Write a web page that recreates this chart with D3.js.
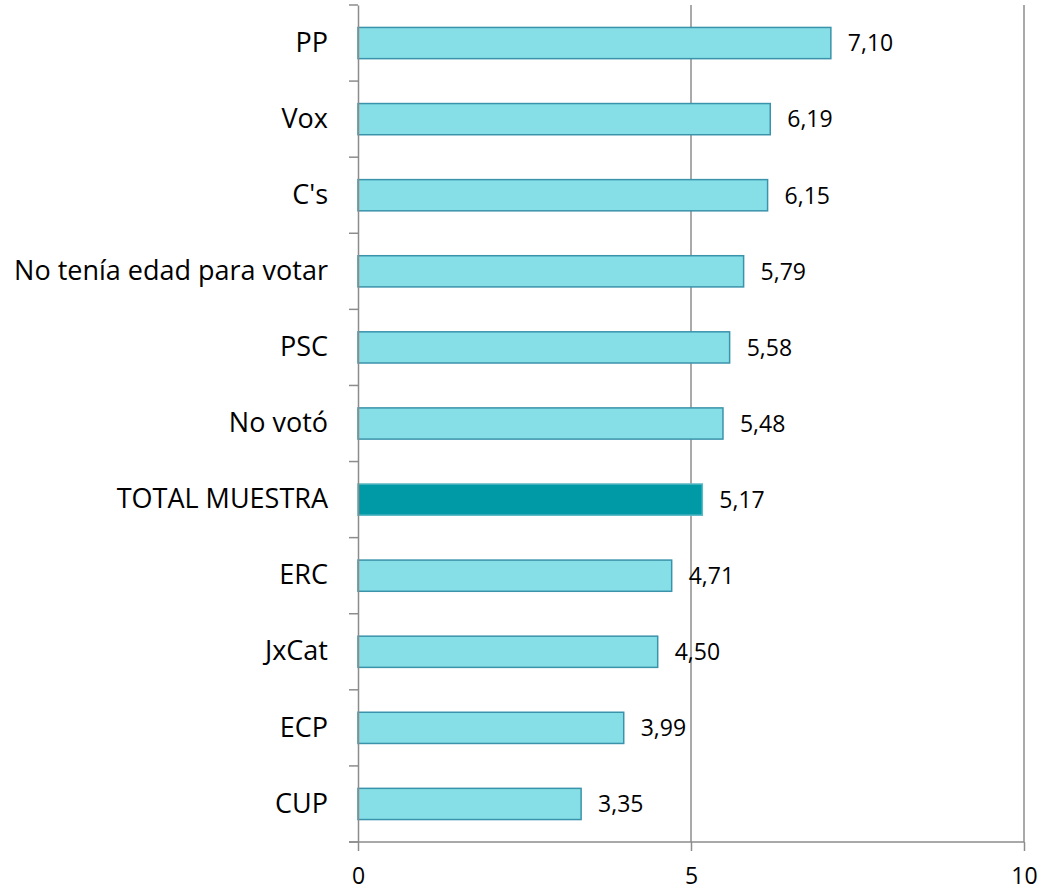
<!DOCTYPE html>
<html>
<head>
<meta charset="utf-8">
<script src="https://cdn.jsdelivr.net/npm/d3@7"></script>
<style>
  html, body { margin: 0; padding: 0; background: #fff; }
  svg { display: block; }
  text { font-family: "Open Sans", sans-serif; fill: #000; }
</style>
</head>
<body>
<svg id="chart" width="1041" height="890"></svg>
<script>
const categories = ["PP", "Vox", "C's", "No tenía edad para votar", "PSC", "No votó", "TOTAL MUESTRA", "ERC", "JxCat", "ECP", "CUP"];
const values = [7.10, 6.19, 6.15, 5.79, 5.58, 5.48, 5.17, 4.71, 4.50, 3.99, 3.35];
const highlight = ["TOTAL MUESTRA"];
const xTicks = [0, 5, 10];

const FONT = "'Open Sans', sans-serif";
const svg = d3.select("#chart");
const margin = { left: 358, right: 17, top: 5, bottom: 48 };
const W = 1041, H = 890;
const x = d3.scaleLinear().domain([0, 10]).range([margin.left, W - margin.right]);
const y = d3.scaleBand().domain(categories).range([margin.top, H - margin.bottom]).paddingInner(0.59).paddingOuter(0.295);
const yOuter = d3.scaleBand().domain(categories).range([margin.top, H - margin.bottom]);

const axisColor = "#8c8c8c";

// gridlines
svg.append("g").selectAll("line").data(xTicks.filter(d => d > 0)).join("line")
  .attr("x1", d => x(d)).attr("x2", d => x(d))
  .attr("y1", margin.top).attr("y2", H - margin.bottom)
  .attr("stroke", axisColor).attr("stroke-width", 1.5);

// bars
const data = categories.map((c, i) => ({ c, v: values[i] }));
svg.append("g").selectAll("rect").data(data).join("rect")
  .attr("x", x(0))
  .attr("y", d => y(d.c))
  .attr("width", d => x(d.v) - x(0))
  .attr("height", y.bandwidth())
  .attr("fill", d => highlight.includes(d.c) ? "#0099a6" : "#86dfe6")
  .attr("stroke", d => highlight.includes(d.c) ? "#5bb8c4" : "#3a93ab")
  .attr("stroke-width", 1.5);

// value labels
svg.append("g").selectAll("text").data(data).join("text")
  .attr("x", d => x(d.v) + 17)
  .attr("y", d => y(d.c) + y.bandwidth() / 2)
  .attr("dy", "0.36em")
  .attr("font-size", 23)
  .text(d => d3.format(".2f")(d.v).replace(".", ","));

// y axis
const yAxis = d3.axisLeft(yOuter).tickSize(0).tickPadding(30);
const gy = svg.append("g").attr("transform", `translate(${x(0)},0)`).call(yAxis);
gy.select(".domain").attr("stroke", axisColor).attr("stroke-width", 1.5);
gy.selectAll(".tick text").attr("font-size", 27).attr("font-family", FONT).attr("fill", "#000");
// category separator ticks
const sepY = categories.map(c => yOuter(c)).concat([H - margin.bottom]);
svg.append("g").selectAll("line").data(sepY).join("line")
  .attr("x1", x(0) - 9).attr("x2", x(0))
  .attr("y1", d => d).attr("y2", d => d)
  .attr("stroke", axisColor).attr("stroke-width", 1.5);

// x axis
const xAxis = d3.axisBottom(x).tickValues(xTicks).tickSize(9).tickPadding(17).tickFormat(d3.format("d"));
const gx = svg.append("g").attr("transform", `translate(0,${H - margin.bottom})`).call(xAxis);
gx.select(".domain").attr("stroke", axisColor).attr("stroke-width", 1.5).attr("d", `M${x(0) - 9},0H${x(10)}`);
gx.selectAll(".tick line").attr("stroke", axisColor).attr("stroke-width", 1.5);
gx.selectAll(".tick text").attr("font-size", 23).attr("font-family", FONT).attr("fill", "#000");
</script>
</body>
</html>
